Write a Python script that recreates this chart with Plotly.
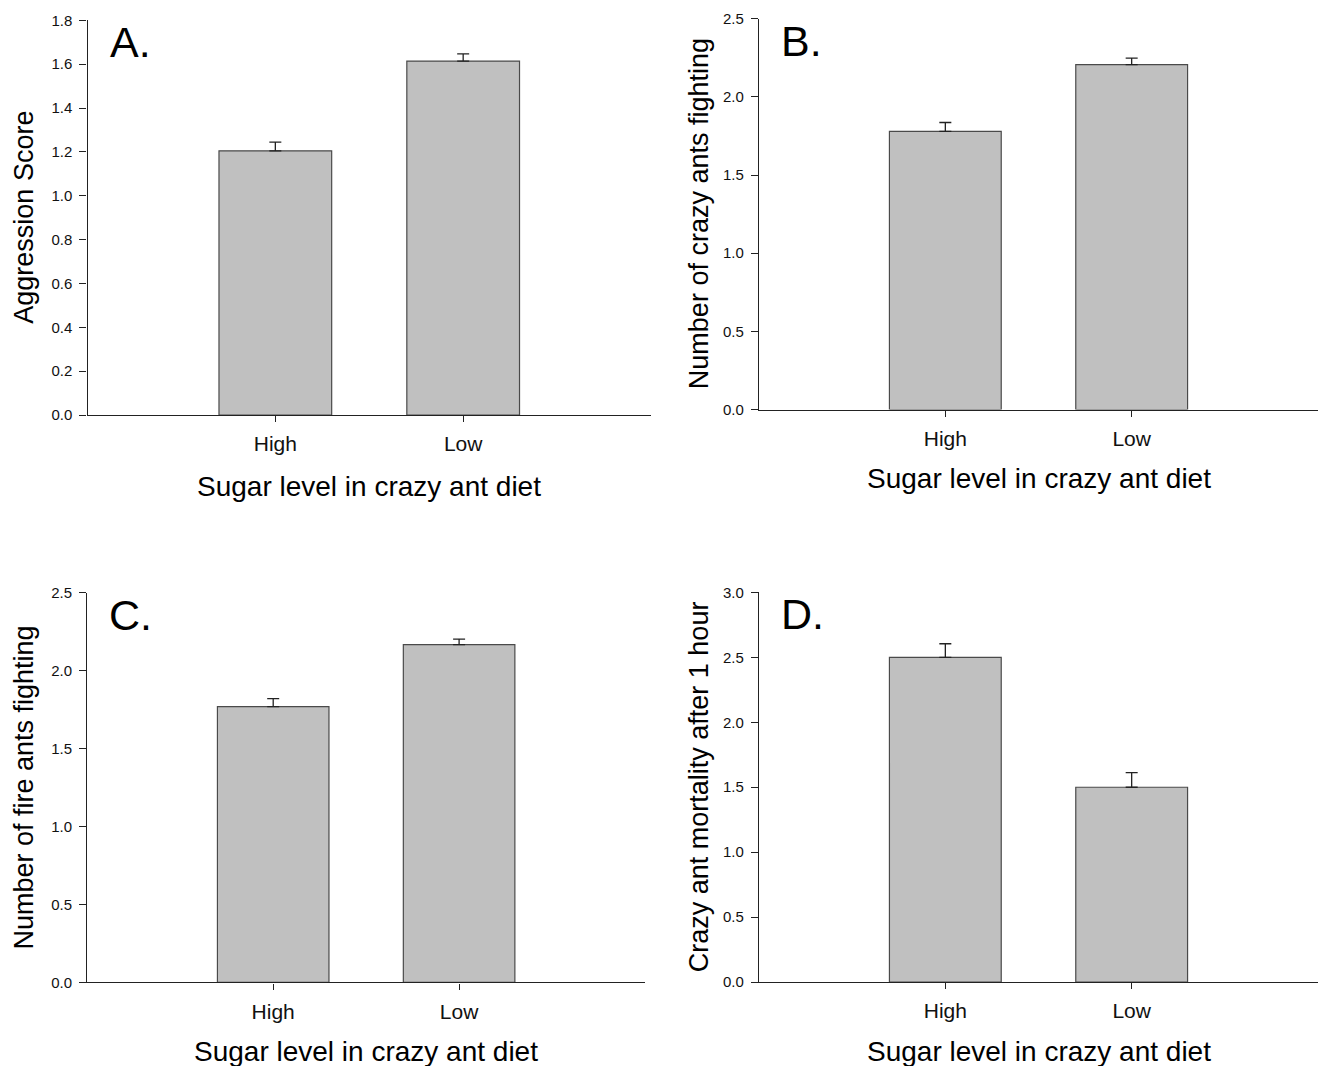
import plotly.graph_objects as go

categories = ["High", "Low"]

aggression = [1.205, 1.614]
aggression_err = [0.040, 0.033]

crazy_fighting = [1.780, 2.206]
crazy_fighting_err = [0.056, 0.042]

fire_fighting = [1.769, 2.167]
fire_fighting_err = [0.051, 0.036]

mortality = [2.50, 1.50]
mortality_err = [0.105, 0.113]

panel_letters = ["A.", "B.", "C.", "D."]
y_titles = ["Aggression Score", "Number of crazy ants fighting",
            "Number of fire ants fighting", "Crazy ant mortality after 1 hour"]
x_title = "Sugar level in crazy ant diet"
y_ranges = [(0, 1.8, 0.2), (0, 2.5, 0.5), (0, 2.5, 0.5), (0, 3.0, 0.5)]

W, H = 1319, 1066
FONT = "Liberation Sans, Arial, sans-serif"

# plot areas in pixels: (x0, x1, ytop, ybottom)
areas = [(87.5, 651, 19.3, 414.5), (759, 1318, 17.7, 409),
         (87.3, 645, 592.3, 982.3), (759, 1318, 592, 982)]

def px(x):
    return x / W

def py(y):
    # compensate for vertical fit of the captured page
    yf = (y - 8.0) / 0.985
    return 1 - yf / H

fig = go.Figure()
series = [(aggression, aggression_err), (crazy_fighting, crazy_fighting_err),
          (fire_fighting, fire_fighting_err), (mortality, mortality_err)]

annotations = []
for i, ((vals, errs), (x0, x1, yt, yb)) in enumerate(zip(series, areas)):
    n = i + 1
    xa = "x" if n == 1 else f"x{n}"
    ya = "y" if n == 1 else f"y{n}"
    fig.add_trace(go.Bar(
        x=categories, y=vals, width=0.6,
        marker=dict(color="#c0c0c0", line=dict(color="#4a4a4a", width=1.2)),
        error_y=dict(type="data", array=errs, arrayminus=[0] * len(errs),
                     symmetric=False, color="#222222", thickness=1.3, width=6),
        xaxis=xa, yaxis=ya, showlegend=False,
    ))
    lo, hi, step = y_ranges[i]
    xkey = "xaxis" if n == 1 else f"xaxis{n}"
    ykey = "yaxis" if n == 1 else f"yaxis{n}"
    fig.layout[xkey] = dict(
        domain=[px(x0), px(x1)], anchor=ya, type="category",
        categoryorder="array", categoryarray=categories,
        range=[-1, 2], showline=True, linecolor="#222222", linewidth=1.3,
        ticks="outside", ticklen=6, tickcolor="#222222", tickwidth=1.2,
        tickfont=dict(family=FONT, size=21, color="#111111"),
        ticklabelstandoff=4, showgrid=False, zeroline=False, fixedrange=True,
    )
    fig.layout[ykey] = dict(
        domain=[py(yb), py(yt)], anchor=xa,
        range=[lo, hi], tick0=lo, dtick=step, tickformat=".1f",
        showline=True, linecolor="#222222", linewidth=1.3,
        ticks="outside", ticklen=7, tickcolor="#222222", tickwidth=1.2,
        tickfont=dict(family=FONT, size=15, color="#111111"),
        ticklabelstandoff=4, showgrid=False, zeroline=False, fixedrange=True,
    )
    # panel letter
    annotations.append(dict(
        text=panel_letters[i], xref="paper", yref="paper",
        x=px(x0 + 20), y=py(yt + 22), xanchor="left", yanchor="middle",
        showarrow=False, font=dict(family=FONT, size=43, color="#000000"),
    ))
    # y title
    ytx = 24 if x0 < 300 else 699
    annotations.append(dict(
        text=y_titles[i], xref="paper", yref="paper",
        x=px(ytx), y=py((yt + yb) / 2), xanchor="center", yanchor="middle",
        textangle=-90, showarrow=False,
        font=dict(family=FONT, size=27, color="#000000"),
    ))
    # x title
    xty = {0: 486, 1: 478, 2: 1052, 3: 1052}[i]
    annotations.append(dict(
        text=x_title, xref="paper", yref="paper",
        x=px((x0 + x1) / 2), y=py(xty), xanchor="center", yanchor="middle",
        showarrow=False, font=dict(family=FONT, size=28, color="#000000"),
    ))

fig.update_layout(
    width=W, height=H, margin=dict(l=0, r=0, t=0, b=0),
    paper_bgcolor="white", plot_bgcolor="white",
    annotations=annotations, bargap=0.4,
)

reset_js = (
    "var s=document.createElement('style');"
    "s.textContent='html,body{margin:0!important;padding:0!important;overflow:hidden!important;}';"
    "document.head.appendChild(s);"
)

fig.write_html(
    "out.html",
    config={"displayModeBar": False},
    post_script=reset_js,
)
